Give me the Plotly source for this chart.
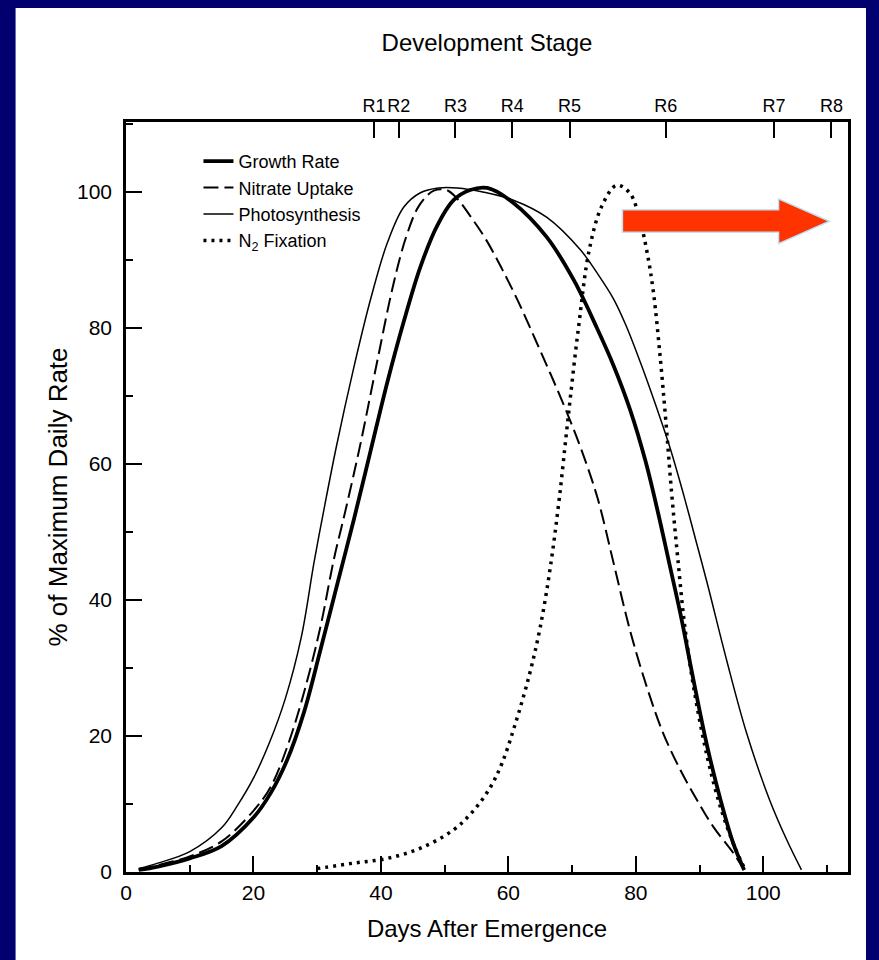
import plotly.graph_objects as go

# ---------------- data ----------------
photo_days = [2, 5, 10, 15, 17.5, 20, 22.5, 25, 27.5, 29.5, 31, 33, 35.7, 38.4, 41, 43.6, 46.2, 49, 52,
              56, 60.8, 66, 71.3, 74, 76.5, 78.5, 80.7, 83, 85.5, 87.5, 89.5, 91.2, 94.3, 97.4, 101,
              103.7, 106]
photo_vals = [0.5, 1.3, 3, 6.5, 9.8, 13.8, 19, 25.5, 34.5, 45.5, 53, 62.5, 74, 84.3, 92.5, 97.8, 99.9,
              100.6, 100.6, 100, 98.8, 96.3, 91.5, 88, 84.3, 80.3, 75, 69, 62, 55.5, 48.5, 42.5, 31,
              20.4, 10.6, 4.7, 0.3]

growth_days = [2, 5, 10, 15, 20, 22.7, 25.3, 27.9, 30.5, 33.2, 35.8, 38.4, 41, 43.6, 46.2, 48.8, 51.4, 54,
               56.7, 60.8, 66, 70.3, 73.9, 76.5, 79.1, 81.5, 83.5, 85.3, 87, 89.1, 91.2, 93.3, 95.3, 97]
growth_vals = [0.3, 0.8, 2, 3.8, 8, 11.6, 16.5, 23.4, 32.6, 42.5, 52, 62, 72, 81, 89, 95, 98.8, 100.3,
               100.6, 98.4, 93.4, 87, 80, 74.5, 68, 60.5, 52.8, 45.2, 38, 28, 18.5, 10.6, 4.2, 0.3]

nitrate_days = [2, 5, 10, 15, 20, 22.7, 25.3, 27.9, 30.5, 32.6, 34.4, 36.8, 39.4, 42, 44, 46, 48.3,
                50.3, 52, 54, 56.5, 59, 61.5, 64, 66.5, 69, 71.5, 74, 76.5, 79.1, 81.8, 84.3, 87,
                89.6, 92.2, 95.3, 97]
nitrate_vals = [0.3, 1, 2.3, 4.5, 9, 12.5, 18.4, 26.3, 36, 45.9, 53, 63, 75, 86.6, 93.5, 98, 100.2,
                100.3, 99, 96.5, 93, 88.7, 84, 78.8, 73.5, 68, 62, 55, 45.5, 35.5, 27, 20.4, 15,
                10.6, 6.6, 2.8, 0.3]

n2_days = [30, 35.7, 41, 46.2, 51.4, 54.6, 57.2, 59, 61, 63.3, 65, 66.6, 68, 69.4, 71, 72.7, 74.7, 77,
           79.1, 80.6, 81.8, 82.8, 83.8, 84.7, 85.6, 86.6, 87.7, 89.2, 91.2, 93.3, 95.6, 97.2]
n2_vals = [0.5, 1.3, 2, 3.5, 6.2, 9.1, 12.5, 16, 21.5, 29, 36, 44.9, 55, 67, 80, 91.5, 98, 101,
           99.8, 96, 91, 85, 76, 66.5, 56, 46, 36, 26.5, 17, 9.5, 3.5, 0.3]

stage_days = [38.9, 42.8, 51.7, 60.6, 69.6, 84.7, 101.7, 110.7]
stage_labels = ["R1", "R2", "R3", "R4", "R5", "R6", "R7", "R8"]

x_ticks = [0, 20, 40, 60, 80, 100]
y_ticks = [0, 20, 40, 60, 80, 100]

X_RANGE = [0, 113.3]
Y_RANGE = [0, 110.3]

FONT = "Liberation Sans, Arial, sans-serif"
NAVY = "#02006e"

# ---------------- figure ----------------
fig = go.Figure()

SPL = dict(shape="spline", smoothing=1.0)
fig.add_trace(go.Scatter(x=growth_days, y=growth_vals, name="Growth Rate", mode="lines",
                         line=dict(color="black", width=3.8, **SPL)))
fig.add_trace(go.Scatter(x=nitrate_days, y=nitrate_vals, name="Nitrate Uptake", mode="lines",
                         line=dict(color="black", width=2, dash="15px,6px", **SPL)))
fig.add_trace(go.Scatter(x=photo_days, y=photo_vals, name="Photosynthesis", mode="lines",
                         line=dict(color="black", width=1.5, **SPL)))
fig.add_trace(go.Scatter(x=n2_days, y=n2_vals, name="N<sub>2</sub> Fixation", mode="lines",
                         line=dict(color="black", width=3.5, dash="3px,5px", **SPL)))

# invisible trace bound to the top (development stage) axis so that it is drawn
fig.add_trace(go.Scatter(x=stage_days, y=[None] * len(stage_days), xaxis="x2", showlegend=False,
                         hoverinfo="skip", mode="lines"))

W, H = 879, 960
L, R, T, B = 125.5, 31, 122, 88
pw, ph = W - L - R, H - T - B


def px_x(p):
    return (p - L) / pw


def px_y(p):
    return (H - B - p) / ph


shapes = [
    # white page area on the navy slide
    dict(type="rect", xref="paper", yref="paper", x0=px_x(15), x1=px_x(866), y0=px_y(960), y1=px_y(8),
         fillcolor="white", line=dict(width=0), layer="below"),
    # red arrow (decoration)
    dict(type="path", xref="x", yref="y",
         path="M 77.9 97.4 L 102.4 97.4 L 102.4 99.0 L 110.4 95.7 L 102.4 92.4 L 102.4 94.1 L 77.9 94.1 Z",
         fillcolor="#ff3300", line=dict(color="#bfe3f5", width=1.5), layer="above"),
]

fig.update_layout(
    width=W, height=H,
    margin=dict(l=L, r=R, t=T, b=B, autoexpand=False),
    paper_bgcolor=NAVY, plot_bgcolor="white",
    font=dict(family=FONT, color="black", size=22),
    shapes=shapes,
    showlegend=True,
    legend=dict(x=px_x(198), y=px_y(143), xanchor="left", yanchor="top",
                bgcolor="rgba(0,0,0,0)", font=dict(size=18, family=FONT), tracegroupgap=0,
                itemwidth=30),
    xaxis=dict(range=X_RANGE, tickvals=x_ticks, ticks="inside", ticklen=16, tickwidth=2,
               tickcolor="black", showline=True, linecolor="black", linewidth=2.5,
               showgrid=False, zeroline=False,
               minor=dict(dtick=10, tick0=0, ticks="inside", ticklen=7, tickwidth=1.5, tickcolor="black"),
               tickfont=dict(size=21),
               title=dict(text="Days After Emergence", font=dict(size=24), standoff=18)),
    xaxis2=dict(range=X_RANGE, overlaying="x", side="top", tickvals=stage_days, ticktext=stage_labels,
                tickangle=0, ticks="inside", ticklen=16, tickwidth=2, tickcolor="black", showline=True,
                linecolor="black", linewidth=2.5, showgrid=False, zeroline=False,
                tickfont=dict(size=18),
                title=dict(text="Development Stage", font=dict(size=24), standoff=38)),
    yaxis=dict(range=Y_RANGE, tickvals=y_ticks, ticks="inside", ticklen=16, tickwidth=2,
               tickcolor="black", showline=True, mirror=True, linecolor="black", linewidth=2.5,
               showgrid=False, zeroline=False, ticklabelstandoff=7,
               minor=dict(dtick=10, tick0=0, ticks="inside", ticklen=7, tickwidth=1.5, tickcolor="black"),
               tickfont=dict(size=21),
               title=dict(text="% of Maximum Daily Rate", font=dict(size=26), standoff=2)),
)

# remove the browser's default 8px page margin so the figure fills the window exactly
fig.write_html("out.html", config={"displayModeBar": False},
               post_script="document.body.style.margin='0';")
